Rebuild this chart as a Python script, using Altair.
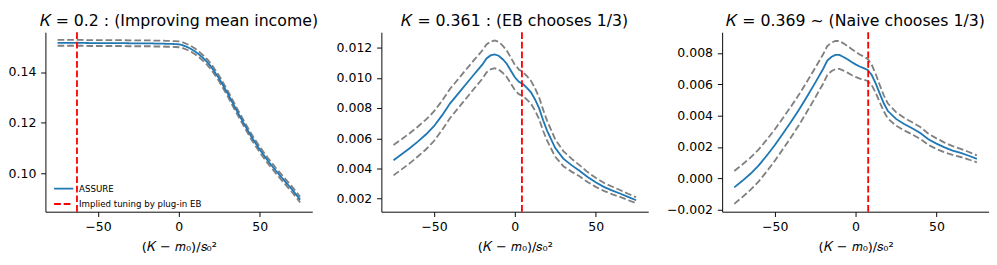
import altair as alt
import pandas as pd

# ---------------- data ----------------
x_vals = [-75, -70, -65, -60, -55, -50, -45, -40, -35, -30, -25, -20, -17.5, -15, -12.5,
          -10, -7.5, -5, -2.5, 0, 2.5, 5, 7.5, 10, 12.5, 15, 17.5, 20, 25, 30, 35, 40,
          45, 50, 55, 60, 65, 70, 75]

assure_1 = [0.1516, 0.1516, 0.1516, 0.1516, 0.1515, 0.1515, 0.1515, 0.1515, 0.1515, 0.1514,
            0.1514, 0.1514, 0.1514, 0.1513, 0.1513, 0.1513, 0.1512, 0.1512, 0.1511, 0.1510,
            0.1506, 0.1500, 0.1492, 0.1482, 0.1470, 0.1456, 0.1440, 0.1421, 0.1374, 0.1318,
            0.1257, 0.1199, 0.1143, 0.1094, 0.1050, 0.1010, 0.0973, 0.0936, 0.0896]
halfwidth_1 = [0.00115] * 20 + [0.00114, 0.00113, 0.00112, 0.00112, 0.00111, 0.00111, 0.00111,
               0.00110, 0.00110, 0.00110, 0.00110, 0.00110, 0.00110, 0.00110, 0.00110,
               0.00110, 0.00110, 0.00110, 0.00110]

assure_2 = [0.00455, 0.00494, 0.00534, 0.00578, 0.00625, 0.00680, 0.00752, 0.00832, 0.00897,
            0.00962, 0.01027, 0.01090, 0.01130, 0.01150, 0.01157, 0.01148, 0.01125, 0.01095,
            0.01050, 0.01005, 0.00975, 0.00960, 0.00935, 0.00905, 0.00858, 0.00800, 0.00720,
            0.00650, 0.00535, 0.00465, 0.00422, 0.00385, 0.00343, 0.00308, 0.00278, 0.00255,
            0.00234, 0.00211, 0.00189]
halfwidth_2 = [0.00101, 0.00100, 0.00100, 0.00099, 0.00099, 0.00098, 0.00097, 0.00097, 0.00096,
               0.00096, 0.00095, 0.00094, 0.00093, 0.00092, 0.00092, 0.00092, 0.00090, 0.00088,
               0.00086, 0.00084, 0.00082, 0.00080, 0.00078, 0.00076, 0.00074, 0.00072, 0.00070,
               0.00066, 0.00058, 0.00050, 0.00043, 0.00037, 0.00033, 0.00030, 0.00027, 0.00025,
               0.00023, 0.00021, 0.00020]

assure_3 = [-0.00057, -0.00015, 0.00030, 0.00082, 0.00145, 0.00212, 0.00285, 0.00360, 0.00438,
            0.00523, 0.00610, 0.00700, 0.00752, 0.00775, 0.00788, 0.00788, 0.00775, 0.00760,
            0.00743, 0.00728, 0.00714, 0.00704, 0.00692, 0.00660, 0.00605, 0.00540, 0.00478,
            0.00430, 0.00380, 0.00347, 0.00320, 0.00290, 0.00250, 0.00222, 0.00198, 0.00178,
            0.00163, 0.00145, 0.00125]
halfwidth_3 = [0.00105, 0.00104, 0.00103, 0.00102, 0.00101, 0.00100, 0.00099, 0.00098, 0.00097,
               0.00096, 0.00095, 0.00094, 0.00092, 0.00091, 0.00090, 0.00089, 0.00087, 0.00085,
               0.00083, 0.00080, 0.00077, 0.00074, 0.00070, 0.00065, 0.00060, 0.00055, 0.00051,
               0.00048, 0.00043, 0.00040, 0.00039, 0.00038, 0.00036, 0.00034, 0.00031, 0.00028,
               0.00026, 0.00024, 0.00022]

eb_tuning = [-63.0, 4.4, 7.8]

panel_titles = ["𝐾 = 0.2 : (Improving mean income)",
                "𝐾 = 0.361 : (EB chooses 1/3)",
                "𝐾 = 0.369 ~ (Naive chooses 1/3)"]
y_domains = [[0.0848, 0.1558], [0.00113, 0.01304], [-0.00212, 0.00933]]
y_ticks = [[0.10, 0.12, 0.14],
           [0.002, 0.004, 0.006, 0.008, 0.010, 0.012],
           [-0.002, 0.000, 0.002, 0.004, 0.006, 0.008]]
y_formats = [".2f", ".3f", ".3f"]
x_ticks = [-50, 0, 50]
series_names = ["ASSURE", "Implied tuning by plug-in EB"]
x_title = "(𝐾 − 𝑚₀)/𝑠₀²"

means = [assure_1, assure_2, assure_3]
halfwidths = [halfwidth_1, halfwidth_2, halfwidth_3]

FONT = "DejaVu Sans"
BLUE = "#1f77b4"
RED = "#ff0000"
GRAY = "#808080"
LW = 1.9
DASH = [7.0, 3.0]
W, H = 278, 187
EXT = 37


def legend_params():
    return alt.Legend(title=None, orient="none", legendX=8, legendY=152,
                      symbolType="stroke", symbolStrokeWidth=LW, symbolSize=400,
                      labelFontSize=9, labelFont=FONT, labelColor="black",
                      rowPadding=-6, labelOffset=5)


def make_panel(i):
    mean = means[i]
    hw = halfwidths[i]
    df_mean = pd.DataFrame({"x": x_vals, "y": mean, "series": series_names[0]})
    rows = []
    for xv, m, h in zip(x_vals, mean, hw):
        rows.append({"x": xv, "y": m + h, "band": "upper"})
        rows.append({"x": xv, "y": m - h, "band": "lower"})
    df_band = pd.DataFrame(rows)
    df_rule = pd.DataFrame({"x": [eb_tuning[i]], "series": [series_names[1]]})

    xenc = alt.X("x:Q", scale=alt.Scale(domain=[-82.5, 82.5], nice=False, zero=False),
                 axis=alt.Axis(values=x_ticks, title=x_title, format="d"))
    yenc = alt.Y("y:Q", scale=alt.Scale(domain=y_domains[i], nice=False, zero=False),
                 axis=alt.Axis(values=y_ticks[i], format=y_formats[i], title=None,
                               minExtent=EXT, maxExtent=EXT))

    bands = alt.Chart(df_band).mark_line(color=GRAY, strokeWidth=LW,
                                         strokeDash=DASH).encode(
        x=xenc, y=yenc, detail="band:N", order="x:Q")

    if i == 0:
        color = alt.Color("series:N",
                          scale=alt.Scale(domain=series_names, range=[BLUE, RED]),
                          legend=legend_params())
        dash = alt.StrokeDash("series:N",
                              scale=alt.Scale(domain=series_names, range=[[1, 0], DASH]),
                              legend=legend_params())
        line = alt.Chart(df_mean).mark_line(strokeWidth=LW).encode(
            x=xenc, y=yenc, color=color, strokeDash=dash)
        rule = alt.Chart(df_rule).mark_rule(strokeWidth=LW).encode(
            x="x:Q", color=color, strokeDash=dash)
    else:
        line = alt.Chart(df_mean).mark_line(strokeWidth=LW, color=BLUE).encode(x=xenc, y=yenc)
        rule = alt.Chart(df_rule).mark_rule(strokeWidth=LW, color=RED,
                                            strokeDash=DASH).encode(x="x:Q")

    return alt.layer(bands, line, rule).properties(
        width=W, height=H,
        title=alt.TitleParams(panel_titles[i], fontSize=16.4, font=FONT, fontWeight="normal",
                              anchor="middle", offset=2.6, color="black"))


chart = alt.hconcat(make_panel(0), make_panel(1), make_panel(2), spacing=18).configure_view(
    stroke=None
).configure_axis(
    grid=False, domainColor="black", tickColor="black", labelColor="black", titleColor="black",
    labelFont=FONT, titleFont=FONT, labelFontSize=13, titleFontSize=13.5, titleFontWeight="normal",
    tickSize=5, labelPadding=5, domainWidth=1, tickWidth=1, titlePadding=6
).properties(padding={"left": 0, "top": 0, "right": 0, "bottom": 0})

chart.save("out.html", embed_options={"renderer": "svg", "actions": False})
